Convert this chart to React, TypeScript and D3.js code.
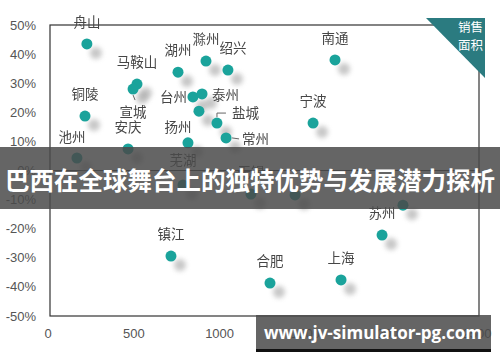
import React, { useEffect, useRef } from "react";
import * as d3 from "d3";

// city scatter: sales area (x) vs growth rate (y, %)
const cities = ["舟山", "铜陵", "池州", "马鞍山", "宣城", "安庆", "湖州", "滁州", "绍兴", "台州", "泰州", "", "盐城", "常州", "扬州", "芜湖", "无锡", "", "", "苏州", "上海", "合肥", "镇江", "南通", "宁波"];
const area = [215, 204, 157, 507, 484, 455, 746, 909, 1037, 833, 886, 868, 973, 1026, 804, 775, 1171, 1428, 2057, 1935, 1696, 1282, 705, 1661, 1533];
const growth = [43.5, 18.7, 4.3, 29.7, 28, 7.4, 33.8, 37.6, 34.5, 25.3, 26.3, 20.4, 16.3, 11.2, 9.5, -5, -8.1, -8.4, -11.9, -22.2, -37.6, -38.7, -29.4, 38, 16.3];

const xTicks = [0, 500, 1000, 1500, 2000, 2500];
const yTicks = [50, 40, 30, 20, 10, 0, -10, -20, -30, -40, -50];

const bannerText = "巴西在全球舞台上的独特优势与发展潜力探析";
const watermark = "www.jv-simulator-pg.com";

// label placement relative to the dot: [dx, dy, anchor]
const labelPos: Record<string, [number, number, string]> = {
  池州: [-5, -21, "middle"],
  宣城: [0, 23, "middle"],
  绍兴: [5, -22, "middle"],
  台州: [-6, 0, "end"],
  泰州: [10, 1, "start"],
  盐城: [15, -10, "start"],
  常州: [16, 1, "start"],
  扬州: [-10, -16, "middle"],
  芜湖: [0, -25, "middle"],
};

const W = 500;
const H = 362;
const teal = "#1aa39b";

export default function App() {
  const ref = useRef<SVGSVGElement>(null);

  useEffect(() => {
    const svg = d3.select(ref.current);
    svg.selectAll("*").remove();

    const x = d3.scaleLinear().domain([0, 2500]).range([50, 479]);
    const y = d3.scaleLinear().domain([-50, 50]).range([316, 25]);

    const defs = svg.append("defs");
    defs
      .append("filter")
      .attr("id", "blur")
      .attr("x", "-100%")
      .attr("y", "-100%")
      .attr("width", "300%")
      .attr("height", "300%")
      .append("feGaussianBlur")
      .attr("stdDeviation", 2.5);

    svg.append("rect").attr("width", W).attr("height", H).attr("fill", "#fff");

    // frame
    svg
      .append("rect")
      .attr("x", x(0))
      .attr("y", y(50))
      .attr("width", x(2500) - x(0))
      .attr("height", y(-50) - y(50))
      .attr("fill", "none")
      .attr("stroke", "#333")
      .attr("stroke-width", 1.2);

    svg
      .append("line")
      .attr("x1", x(0))
      .attr("x2", x(2500))
      .attr("y1", y(0))
      .attr("y2", y(0))
      .attr("stroke", "#333")
      .attr("stroke-width", 1.2);

    // tick labels
    svg
      .selectAll("text.yt")
      .data(yTicks)
      .enter()
      .append("text")
      .attr("x", 36)
      .attr("y", (d) => y(d))
      .attr("dy", "0.35em")
      .attr("text-anchor", "end")
      .style("font-family", "'Liberation Sans', Arial, sans-serif")
      .style("font-size", "13px")
      .attr("fill", "#555")
      .text((d) => d + "%");

    svg
      .selectAll("text.xt")
      .data(xTicks)
      .enter()
      .append("text")
      .attr("x", (d) => x(d) - 2)
      .attr("y", 338)
      .attr("text-anchor", "middle")
      .style("font-family", "'Liberation Sans', Arial, sans-serif")
      .style("font-size", "13px")
      .attr("fill", "#555")
      .text((d) => d);

    const data = cities.map((name, i) => ({ name, a: area[i], g: growth[i] }));

    // shadows
    svg
      .selectAll("circle.sh")
      .data(data)
      .enter()
      .append("circle")
      .attr("cx", (d) => x(d.a) + 9)
      .attr("cy", (d) => y(d.g) + 9)
      .attr("r", 6)
      .attr("fill", "#999")
      .attr("opacity", 0.55)
      .attr("filter", "url(#blur)");

    svg
      .selectAll("circle.pt")
      .data(data)
      .enter()
      .append("circle")
      .attr("cx", (d) => x(d.a))
      .attr("cy", (d) => y(d.g))
      .attr("r", 5.5)
      .attr("fill", teal);

    // leader lines
    const lead = (name: string, pts: [number, number][]) => {
      const d = data.find((p) => p.name === name)!;
      const px = x(d.a);
      const py = y(d.g);
      svg
        .append("path")
        .attr("d", d3.line()(pts.map(([dx, dy]) => [px + dx, py + dy])))
        .attr("fill", "none")
        .attr("stroke", "#666")
        .attr("stroke-width", 1);
    };
    lead("盐城", [[0, -6], [0, -10], [9, -10]]);
    lead("常州", [[6, 0], [13, 1]]);
    lead("宣城", [[0, 6], [2, 11]]);

    svg
      .append("g")
      .attr("opacity", 0.99)
      .selectAll("text")
      .data(data.filter((d) => d.name))
      .enter()
      .append("text")
      .attr("x", (d) => Math.round(x(d.a) + (labelPos[d.name] ? labelPos[d.name][0] : 0)))
      .attr("y", (d) => Math.round(y(d.g) + (labelPos[d.name] ? labelPos[d.name][1] : -22)))
      .attr("dy", "0.35em")
      .attr("text-anchor", (d) => (labelPos[d.name] ? labelPos[d.name][2] : "middle"))
      .style("font-family", "'Noto Sans CJK SC', sans-serif")
      .style("font-size", "13.5px")
      .attr("fill", "#444")
      .text((d) => d.name);

    // corner tag
    svg
      .append("path")
      .attr("d", "M426,18 L485,18 L485,78 Z")
      .attr("fill", "#2b7b80");
    svg
      .selectAll("text.tag")
      .data(["销售", "面积"])
      .enter()
      .append("text")
      .attr("x", 483)
      .attr("y", (d, i) => 28 + i * 18)
      .attr("dy", "0.35em")
      .attr("text-anchor", "end")
      .style("font-family", "'Noto Sans CJK SC', sans-serif")
      .style("font-size", "12.5px")
      .attr("fill", "#fff")
      .text((d) => d);

    // overlay banner
    svg
      .append("rect")
      .attr("x", 0)
      .attr("y", 147)
      .attr("width", W)
      .attr("height", 62)
      .attr("fill", "#4a4a4a")
      .attr("opacity", 0.85);
    svg
      .append("text")
      .attr("x", W / 2)
      .attr("y", 181)
      .attr("dy", "0.35em")
      .attr("text-anchor", "middle")
      .style("font-family", "'Noto Sans CJK SC', sans-serif")
      .style("font-size", "24.5px")
      .style("font-weight", "bold")
      .attr("fill", "#fff")
      .text(bannerText);

    // watermark
    svg
      .append("rect")
      .attr("x", 256)
      .attr("y", 315)
      .attr("width", 235)
      .attr("height", 34)
      .attr("fill", "#4a4a4a")
      .attr("opacity", 0.85);
    svg
      .append("rect")
      .attr("x", 256)
      .attr("y", 349)
      .attr("width", 235)
      .attr("height", 3)
      .attr("fill", "#111");
    svg
      .append("text")
      .attr("x", 373)
      .attr("y", 333)
      .attr("dy", "0.35em")
      .attr("text-anchor", "middle")
      .style("font-family", "'Open Sans', sans-serif")
      .style("font-size", "17px")
      .style("font-weight", "bold")
      .attr("fill", "#fff")
      .text(watermark);
  }, []);

  return (
    <div style={{ position: "absolute", left: 0, top: 0 }}>
      <svg ref={ref} width={W} height={H} />
    </div>
  );
}
